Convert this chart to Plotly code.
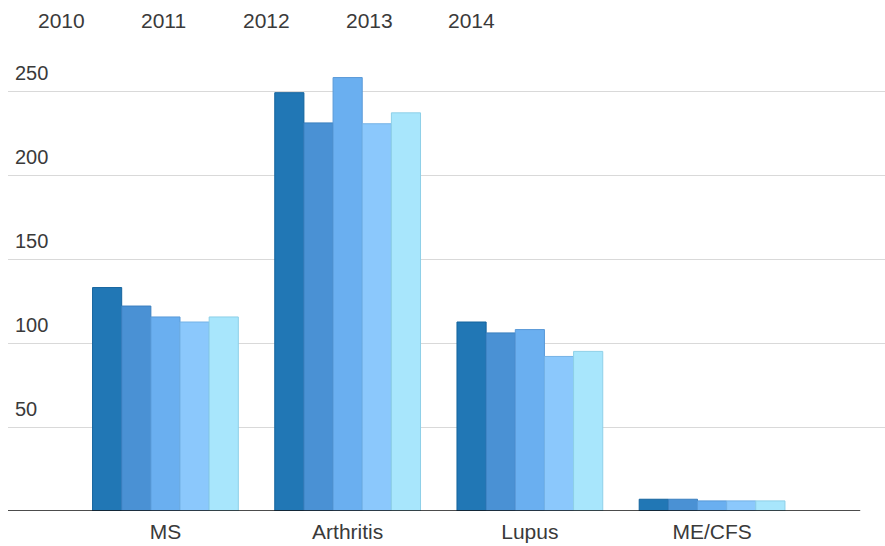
import plotly.graph_objects as go

categories = ["MS", "Arthritis", "Lupus", "ME/CFS"]
years = ["2010", "2011", "2012", "2013", "2014"]
values = {
    "2010": [133, 249, 112.5, 7],
    "2011": [122, 231, 106, 7],
    "2012": [115.5, 258, 108, 6],
    "2013": [112.5, 230.5, 92, 6],
    "2014": [115.5, 237, 95, 6],
}
fills = ["#2177b5", "#4a91d4", "#6aaff0", "#8bc8fc", "#a8e6fc"]
borders = ["#15649e", "#3a7fbf", "#5a9ad8", "#74b2e6", "#8ed0e8"]
ytick_vals = [0, 50, 100, 150, 200, 250]
ytick_text = ["", "50", "100", "150", "200", "250"]

FONT = "Liberation Sans, Arial, sans-serif"
fig = go.Figure()
for i, y in enumerate(years):
    fig.add_trace(go.Bar(
        x=categories, y=values[y], name=y,
        marker=dict(color=fills[i], line=dict(color=borders[i], width=1)),
        showlegend=False,
    ))

# legend as plain text
legend_x = [61, 163, 266, 369, 472]
for i, y in enumerate(years):
    fig.add_annotation(text=y, xref="paper", yref="paper",
                       x=(legend_x[i] - 8) / 877, y=(546 - 20.5 - 35) / 451,
                       showarrow=False, xanchor="center", yanchor="middle",
                       font=dict(size=21, color="#3a3a3a", family=FONT))

fig.add_shape(type="line", xref="x", yref="y", x0=-0.864, x1=3.813, y0=0, y1=0,
              line=dict(color="#111111", width=1.5), layer="above")

fig.update_layout(
    width=885, height=546,
    margin=dict(l=8, r=0, t=60, b=35),
    paper_bgcolor="white", plot_bgcolor="white",
    barmode="group", bargap=0.2, bargroupgap=0,
    font=dict(family=FONT, size=20, color="#3a3a3a"),
    xaxis=dict(range=[-0.864, 3.949], showgrid=False, showline=False,
               ticks="", tickfont=dict(size=21, color="#3a3a3a"), ticklabelstandoff=6),
    yaxis=dict(range=[0, 268.45], tickvals=ytick_vals, ticktext=ytick_text,
               showgrid=True, gridcolor="#d9d9d9", gridwidth=1, zeroline=False,
               showline=False, ticks="", ticklabelposition="inside top",
               ticklabelshift=-4, ticklabelstandoff=4,
               tickfont=dict(size=20, color="#3a3a3a")),
)
fig.write_html("out.html")
